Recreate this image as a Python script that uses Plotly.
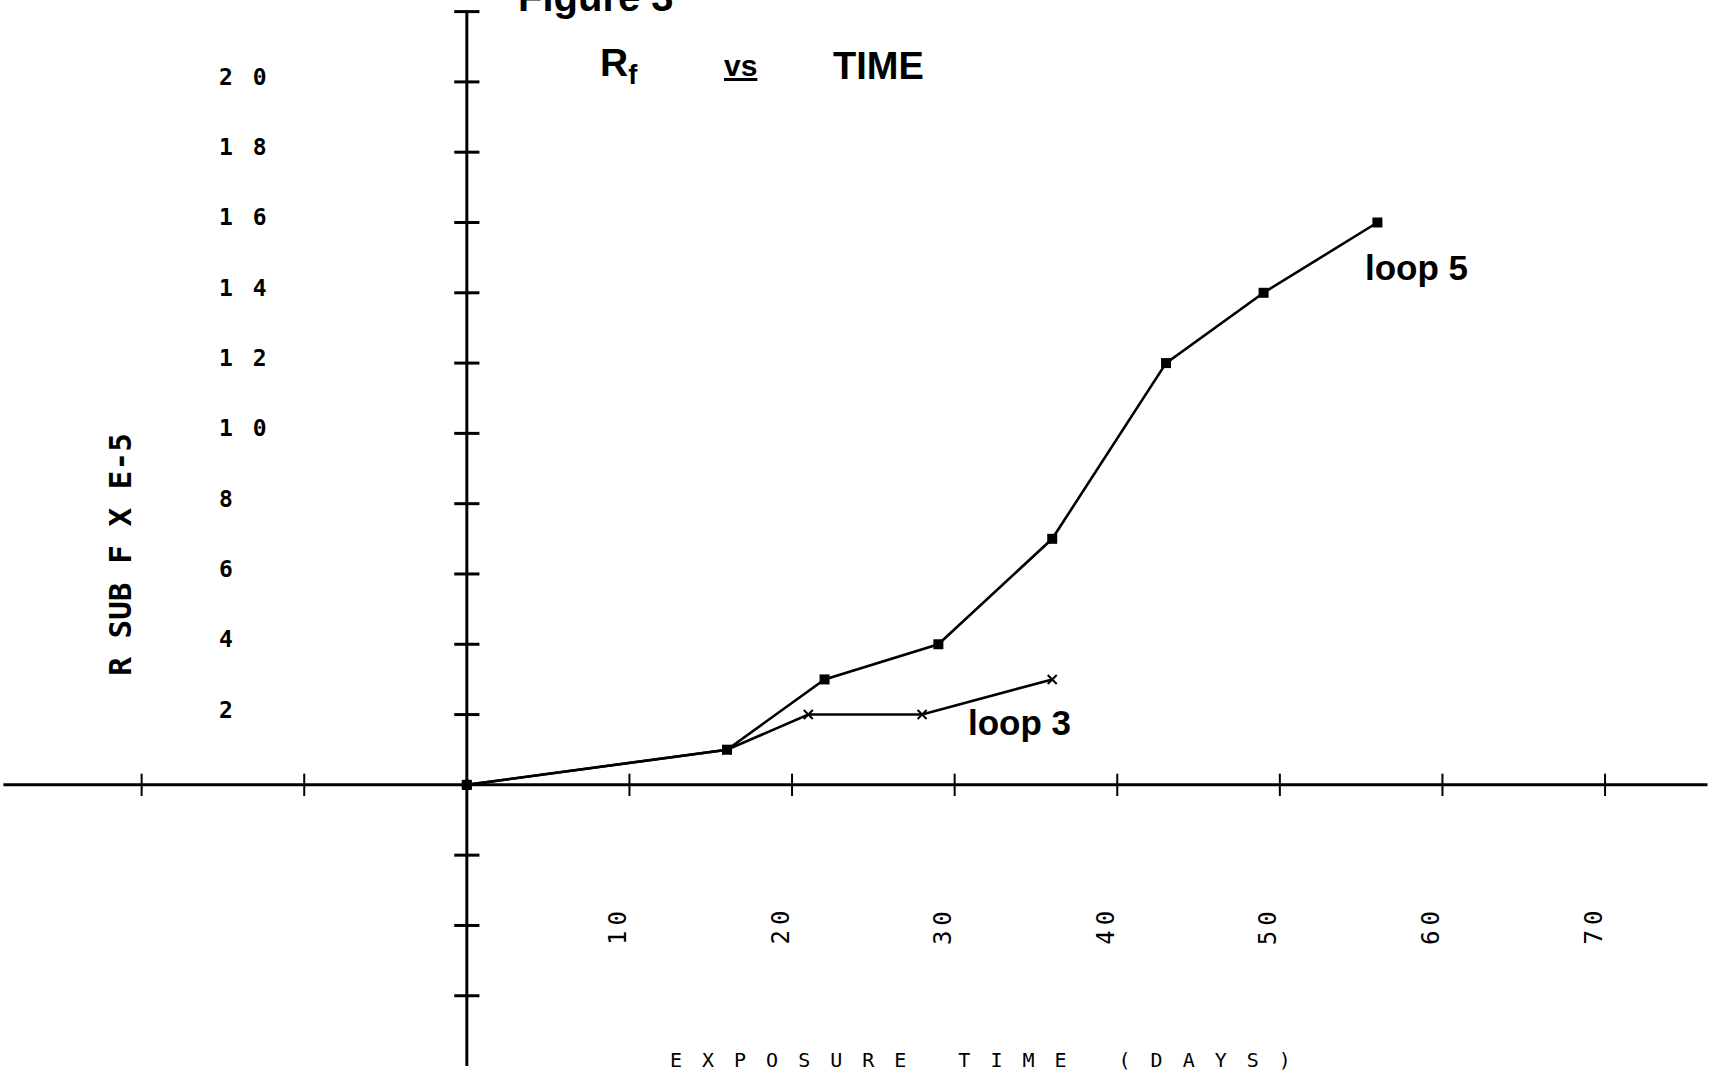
import plotly.graph_objects as go

# Fouling resistance (R sub f, x 1e-5) versus exposure time in days
days_loop5 = [0, 16, 22, 29, 36, 43, 49, 56]
rf_loop5 = [0, 1, 3, 4, 7, 12, 14, 16]

days_loop3 = [0, 16, 21, 28, 36]
rf_loop3 = [0, 1, 2, 2, 3]

# Axis tick positions and labels
x_tick_vals = [-20, -10, 10, 20, 30, 40, 50, 60, 70]
x_label_vals = [10, 20, 30, 40, 50, 60, 70]
x_label_text = ["10", "20", "30", "40", "50", "60", "70"]
y_tick_vals = [-6, -4, -2, 2, 4, 6, 8, 10, 12, 14, 16, 18, 20, 22]
y_label_vals = [2, 4, 6, 8, 10, 12, 14, 16, 18, 20]
y_label_text = ["2", "4", "6", "8", "10", "12", "14", "16", "18", "20"]

W, H = 1714, 1078
X_RANGE = [-28.71, 76.70]
Y_RANGE = [-8.34, 22.33]

INK = "#000000"
MONO = "DejaVu Sans Mono"
SANS = "Liberation Sans Narrow, Liberation Sans, Arial"


def spaced(text, px):
    """Wrap text in a span with extra tracking between glyphs."""
    return f'<span style="letter-spacing:{px}px">{text}</span>'


fig = go.Figure()

# Hand-drawn style axes crossing at the origin
fig.add_trace(go.Scatter(x=[-28.5, 76.3], y=[0, 0], mode="lines",
                         line=dict(color=INK, width=3), hoverinfo="skip"))
fig.add_trace(go.Scatter(x=[0, 0], y=[-8, 22], mode="lines",
                         line=dict(color=INK, width=3), hoverinfo="skip"))
fig.add_trace(go.Scatter(x=x_tick_vals, y=[0] * len(x_tick_vals), mode="markers",
                         marker=dict(symbol="line-ns", size=16,
                                     line=dict(color=INK, width=2)),
                         hoverinfo="skip"))
fig.add_trace(go.Scatter(x=[0] * len(y_tick_vals), y=y_tick_vals, mode="markers",
                         marker=dict(symbol="line-ew", size=18,
                                     line=dict(color=INK, width=3)),
                         hoverinfo="skip"))
fig.add_trace(go.Scatter(x=[0], y=[0], mode="markers",
                         marker=dict(symbol="circle", size=11, color=INK),
                         hoverinfo="skip"))

# Data series
fig.add_trace(go.Scatter(x=days_loop5, y=rf_loop5, mode="lines+markers", name="loop 5",
                         line=dict(color=INK, width=2.6),
                         marker=dict(symbol="square", size=10, color=INK)))
fig.add_trace(go.Scatter(x=days_loop3, y=rf_loop3, mode="lines+markers", name="loop 3",
                         line=dict(color=INK, width=2.6),
                         marker=dict(symbol="x-thin", size=9,
                                     line=dict(color=INK, width=2))))

annotations = []

# Rotated day labels along the bottom
for v, t in zip(x_label_vals, x_label_text):
    annotations.append(dict(
        x=v, y=-4, xref="x", yref="y", text=spaced(t, 5), showarrow=False,
        textangle=-90, xshift=-11,
        font=dict(family=MONO, size=24, color=INK),
    ))

# R sub f labels to the left of the vertical axis
for v, t in zip(y_label_vals, y_label_text):
    annotations.append(dict(
        x=-15.39, y=v, xref="x", yref="y", text=spaced(t, 20), showarrow=False,
        xanchor="left", yshift=5,
        font=dict(family=MONO, size=23, color=INK, weight="bold"),
    ))

annotations += [
    dict(x=-21.3, y=6.56, xref="x", yref="y", text="R SUB F X E-5",
         showarrow=False, textangle=-90,
         font=dict(family=MONO, size=31, color=INK, weight="bold")),
    dict(x=32.2, y=-7.83, xref="x", yref="y",
         text=spaced("EXPOSURE TIME (DAYS)", 20),
         showarrow=False,
         font=dict(family=MONO, size=20, color=INK)),
    dict(x=596 / W, y=1 - 21 / H, xref="paper", yref="paper", yanchor="bottom",
         text="<b>Figure 3</b>",
         showarrow=False, font=dict(family=SANS, size=40, color=INK)),
    dict(x=9.36, y=20.46, xref="x", yref="y", text="<b>R<sub>f</sub></b>",
         showarrow=False, font=dict(family=SANS, size=39, color=INK)),
    dict(x=16.8, y=20.46, xref="x", yref="y", text="<b><u>vs</u></b>",
         showarrow=False, font=dict(family=SANS, size=30, color=INK)),
    dict(x=25.3, y=20.46, xref="x", yref="y", text="<b>TIME</b>",
         showarrow=False, font=dict(family=SANS, size=38, color=INK)),
    dict(x=58.4, y=14.71, xref="x", yref="y", text="<b>loop 5</b>",
         showarrow=False, font=dict(family=SANS, size=35, color=INK)),
    dict(x=34.0, y=1.77, xref="x", yref="y", text="<b>loop 3</b>",
         showarrow=False, font=dict(family=SANS, size=35, color=INK)),
]

fig.update_layout(
    width=W, height=H,
    margin=dict(l=0, r=0, t=0, b=0),
    paper_bgcolor="white", plot_bgcolor="white",
    showlegend=False,
    xaxis=dict(range=X_RANGE, visible=False, fixedrange=True),
    yaxis=dict(range=Y_RANGE, visible=False, fixedrange=True),
    annotations=annotations,
)

fig.write_html("out.html")
